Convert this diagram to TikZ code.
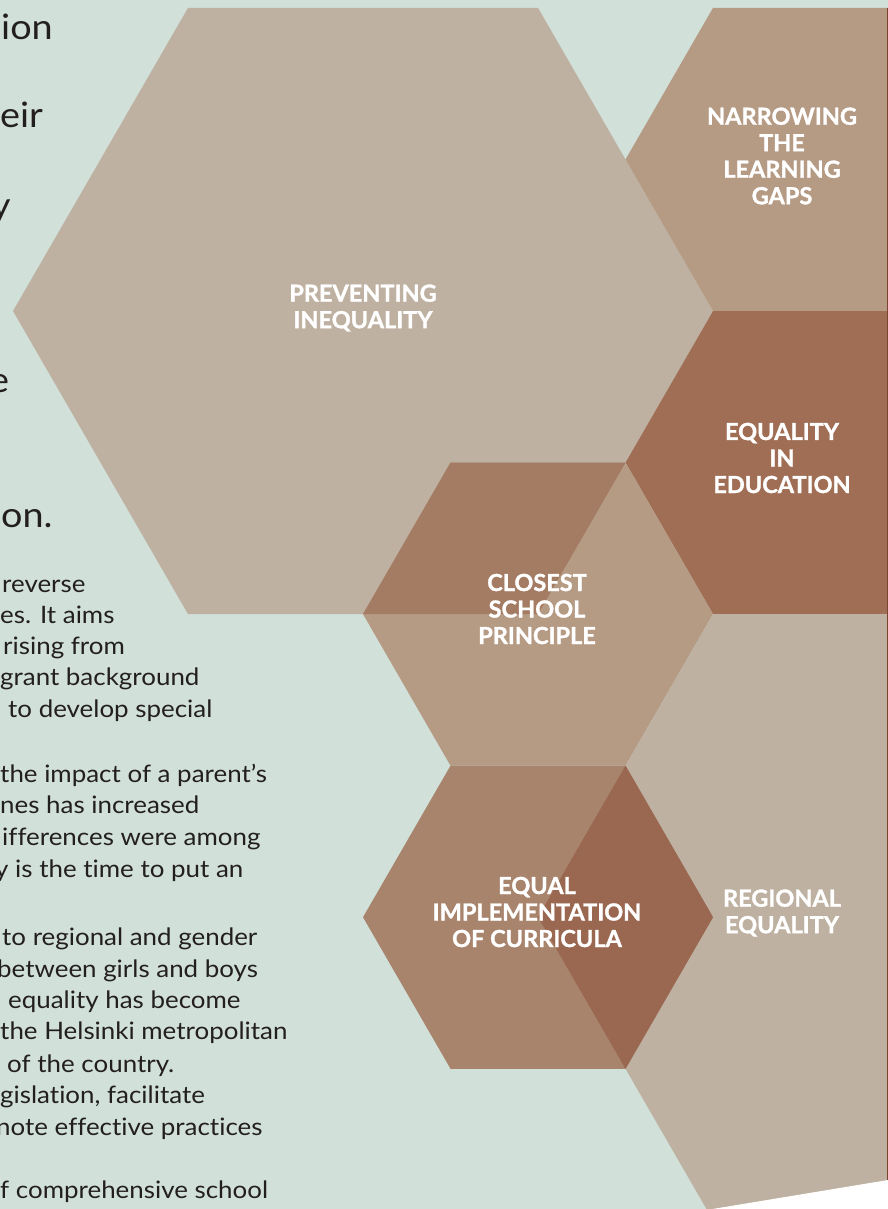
\documentclass[tikz,border=0pt]{standalone}
\usepackage{fontspec}
\setmainfont{Lato}
\newfontfamily\bodyfont[FakeStretch=1.08, Ligatures=NoCommon]{Lato}
\newfontfamily\labelfont[BoldFeatures={FakeBold=1.3}]{Lato}
\definecolor{bg}{HTML}{D1E0D9}
\definecolor{hexlight}{HTML}{BEB1A1}
\definecolor{hexmid}{HTML}{B59A84}
\definecolor{hexeq}{HTML}{A06E55}
\definecolor{hexcur}{HTML}{A9846D}
\definecolor{ovA}{HTML}{A47B63}
\definecolor{ovB}{HTML}{9A6850}
\definecolor{edgecol}{HTML}{7A4530}
\definecolor{ink}{HTML}{231F20}
\newcommand\hexfill[4]{\fill[#1] ({#2+#4},{#3}) -- ({#2+#4/2},{#3-0.8660254*#4}) -- ({#2-#4/2},{#3-0.8660254*#4}) -- ({#2-#4},{#3}) -- ({#2-#4/2},{#3+0.8660254*#4}) -- ({#2+#4/2},{#3+0.8660254*#4}) -- cycle;}
\tikzset{
  hexlabel/.style={text=white, font=\labelfont\bfseries\fontsize{23.5}{26.5}\selectfont, align=center, inner sep=0pt},
  bodytext/.style={anchor=base west, font=\bodyfont\fontsize{24}{28}\selectfont, text=ink, inner sep=0pt},
  bigtext/.style={anchor=base west, font=\bodyfont\fontsize{35}{44}\selectfont, text=ink, inner sep=0pt}
}
\begin{document}
\begin{tikzpicture}[x=1pt,y=-1pt]
\useasboundingbox (0,0) rectangle (888,1209);
\clip (0,0) rectangle (888,1209);
\fill[bg] (0,0) rectangle (888,1209);
% hexagons
\hexfill{hexlight}{363}{311}{350}
\hexfill{hexmid}{800.5}{159.45}{175}
\hexfill{hexeq}{800.5}{462.6}{175}
\hexfill{hexmid}{538}{614.1}{175}
\fill[ovA] (363,614.1) -- (450.5,462.6) -- (625.5,462.6) -- (538,614.1) -- cycle;
\hexfill{hexlight}{888}{917.2}{350}
\hexfill{hexcur}{538}{917.2}{175}
\fill[ovB] (625.5,765.65) -- (713,917.2) -- (625.5,1068.75) -- (538,917.2) -- cycle;
% page edge
\fill[edgecol] (886.8,8) rectangle (888,1180);
\fill[white] (706.5,1210) -- (888,1180) -- (889,1180) -- (889,1210) -- cycle;
% hexagon labels
\node[hexlabel] (prev) at (363,308) {PREVENTING\\INEQUALITY};
\node[hexlabel] (narrow) at (782,156) {NARROWING\\THE\\LEARNING\\GAPS};
\node[hexlabel] (equal) at (782,458) {EQUALITY\\IN\\EDUCATION};
\node[hexlabel] (close) at (537,609) {CLOSEST\\SCHOOL\\PRINCIPLE};
\node[hexlabel] (curr) at (537,912) {EQUAL\\IMPLEMENTATION\\OF CURRICULA};
\node[hexlabel] (region) at (782,913) {REGIONAL\\EQUALITY};
% large text fragments
\node[bigtext] (b1) at (1,40) {ion};
\node[bigtext] (b2) at (0,128) {eir};
\node[bigtext] (b3) at (-9,217) {y};
\node[bigtext] (b4) at (-11,392) {e};
\node[bigtext] (b5) at (1,527) {on.};
% body text fragments
\node[bodytext] (t1) at (2,592) {reverse};
\node[bodytext] (t2) at (0,623) {es. It aims};
\node[bodytext] (t3) at (3,654) {rising from};
\node[bodytext] (t4) at (0,685) {grant background};
\node[bodytext] (t5) at (8,717) {to develop special};
\node[bodytext] (t6) at (0,782) {the impact of a parent’s};
\node[bodytext] (t7) at (0,813) {nes has increased};
\node[bodytext] (t8) at (2,845) {ifferences were among};
\node[bodytext] (t9) at (-5,877) {y is the time to put an};
\node[bodytext] (t10) at (2,945) {to regional and gender};
\node[bodytext] (t11) at (-3,977) {between girls and boys};
\node[bodytext] (t12) at (8,1008) {equality has become};
\node[bodytext] (t13) at (0,1039) {the Helsinki metropolitan};
\node[bodytext] (t14) at (7,1072) {of the country.};
\node[bodytext] (t15) at (0,1103) {gislation, facilitate};
\node[bodytext] (t16) at (-4,1135) {note effective practices};
\node[bodytext] (t17) at (0,1198) {f comprehensive school};
\end{tikzpicture}
\end{document}
